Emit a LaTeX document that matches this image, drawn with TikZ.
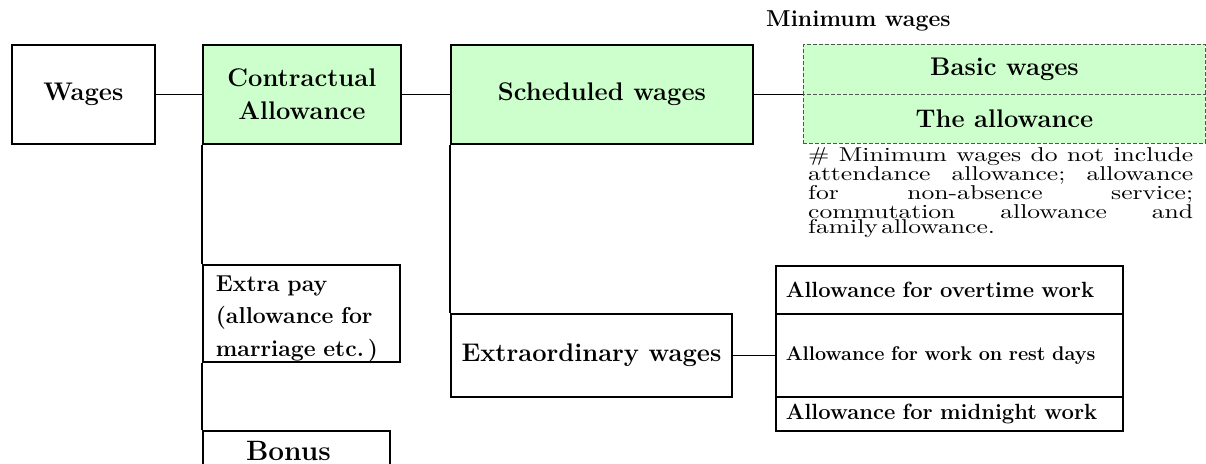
\documentclass[tikz,border=0pt]{standalone}
\usepackage{fontspec}
\newfontfamily\notefam{lmroman10-regular.otf}[FakeStretch=1.28]
\definecolor{paleGreen}{HTML}{CCFFCC}
\definecolor{dashGray}{HTML}{555555}
% one justified line of the footnote
\newcommand\jline[1]{\hbox to 385pt{#1}}
\tikzset{
  box/.style={draw, line width=1.8pt, rectangle, inner sep=0pt, anchor=north west, align=center},
  greenbox/.style={box, fill=paleGreen},
  dashbox/.style={draw=dashGray, line width=0.9pt, dash pattern=on 4pt off 2pt, fill=paleGreen,
                  rectangle, inner sep=0pt, anchor=north west, align=center},
  rowbox/.style={box, text width=327pt, inner xsep=10pt, align=left},
  conn/.style={line width=1.8pt},
  bigfont/.style={font=\fontsize{25.5}{33}\selectfont\bfseries},
  midfont/.style={font=\fontsize{23}{32.5}\selectfont\bfseries},
  rowfont/.style={font=\fontsize{22}{25}\selectfont\bfseries}
}
\begin{document}
\begin{tikzpicture}[x=1pt,y=-1pt]
  \useasboundingbox (0,0) rectangle (1206,463);
  \clip (0,0) rectangle (1206,463);

  % top row
  \node[box, bigfont, minimum width=143pt, minimum height=99pt] (wages) at (11,44) {Wages};
  \node[greenbox, bigfont, minimum width=198pt, minimum height=99pt] (contract) at (202,44) {Contractual\\Allowance};
  \node[greenbox, bigfont, minimum width=302pt, minimum height=99pt] (sched) at (450,44) {Scheduled wages};

  % minimum wages group
  \node[anchor=base west, inner sep=0pt, font=\fontsize{23}{26}\selectfont\bfseries] (mintitle) at (766,27) {Minimum wages};
  \node[dashbox, bigfont, minimum width=402pt, minimum height=49.5pt] (basic) at (803,44) {Basic wages};
  \node[dashbox, bigfont, minimum width=402pt, minimum height=49.5pt] (allow) at (803,93.5) {The allowance};
  \node[anchor=north west, inner sep=0pt, text width=385pt] (note) at (808,147.6)
    {\notefam\fontsize{20}{15.8}\selectfont\lineskiplimit=-20pt\relax
     \jline{\#\hfil Minimum\hfil wages\hfil do\hfil not\hfil include}
     \jline{attendance\hfil allowance;\hfil allowance}
     \jline{for\hfil non-absence\hfil service;}
     \jline{commutation\hfil allowance\hfil and}
     \jline{family allowance.\hfil}};

  % lower left branch
  \node[box, midfont, text width=171pt, inner xsep=13pt, align=left, minimum height=97pt, text height=26pt] (extra) at (202,264)
    {Extra pay\\(allowance for\\marriage etc.\,)};
  \node[box, font=\fontsize{28}{30}\selectfont\bfseries, minimum width=187pt, minimum height=40pt,
        text height=22pt, text depth=2pt] (bonus) at (202,430) {\hspace*{-16pt}Bonus};

  % extraordinary wages
  \node[box, bigfont, minimum width=281pt, minimum height=83pt] (extraord) at (450,313) {Extraordinary wages};
  \node[rowbox, rowfont, minimum height=48pt] (overtime) at (775,265) {Allowance for overtime work};
  \node[rowbox, font=\fontsize{19.8}{23}\selectfont\bfseries, minimum height=83pt] (rest) at (775,313) {Allowance for work on rest days};
  \node[rowbox, rowfont, minimum height=34pt] (midnight) at (775,396) {Allowance for midnight work};

  % connectors
  \draw[conn] (wages.east) -- (contract.west);
  \draw[conn] (contract.east) -- (sched.west);
  \draw[conn] (sched.east) -- (basic.south west);
  \draw[conn] (contract.south west) -- (extra.north west);
  \draw[conn] (extra.south west) -- (bonus.north west);
  \draw[conn] (sched.south west) -- (extraord.north west);
  \draw[conn] (extraord.east) -- (rest.west);
\end{tikzpicture}
\end{document}
